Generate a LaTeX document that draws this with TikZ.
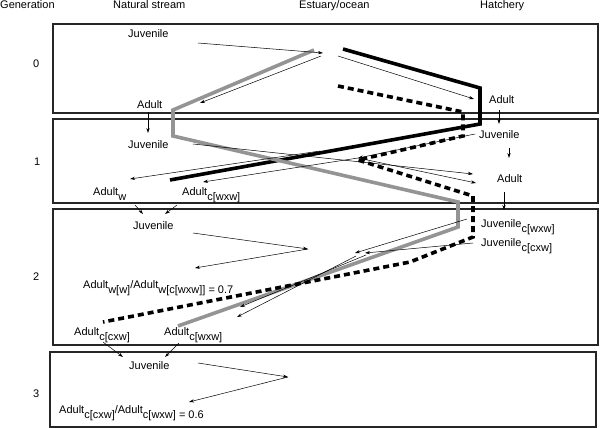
\documentclass[tikz,border=0pt]{standalone}
\usepackage{fontspec}
\setmainfont{Liberation Sans}
\usetikzlibrary{arrows.meta}
\newcommand{\lowtxt}[1]{\raisebox{-5pt}{#1}}
\tikzset{
txt/.style={anchor=base west, inner sep=0pt, font=\fontsize{11}{13}\selectfont},
genbox/.style={draw=black!85, line width=1.1pt},
flow/.style={line width=0.5pt, -{Stealth[length=5pt,width=3.2pt]}},
wildline/.style={draw=black!42, line width=3.6pt},
hatchline/.style={draw=black, line width=3.6pt},
crossline/.style={draw=black, line width=3.6pt, dash pattern=on 6pt off 4pt}
}
\begin{document}
\begin{tikzpicture}[x=1pt,y=-1pt]
\useasboundingbox (0,0) rectangle (600,428);
%Boxes
\draw[genbox] (53,24) rectangle (598,113);
\draw[genbox] (53,119) rectangle (598,203);
\draw[genbox] (53,209) rectangle (598,345);
\draw[genbox] (50,352) rectangle (596,427);
%Headers
\node[txt] (hdrgen) at (0,8.5) {Generation};
\node[txt] (hdrnat) at (113,8.5) {Natural stream};
\node[txt] (hdrest) at (299,8.5) {Estuary/ocean};
\node[txt] (hdrhat) at (480,8.5) {Hatchery};
\node[txt] (gen0) at (33,68) {0};
\node[txt] (gen1) at (34,165) {1};
\node[txt] (gen2) at (33,280) {2};
\node[txt] (gen3) at (33,397) {3};
%Generation 0
\node[txt] (juvN0) at (128,38) {Juvenile};
\node[txt] (adultN0) at (137,109) {Adult};
\node[txt] (adultH0) at (489,103) {Adult};
%Generation 1
\node[txt] (juvN1) at (128,148) {Juvenile};
\node[txt] (adultW1) at (93,195) {Adult\lowtxt{w}};
\node[txt] (adultC1) at (182,195) {Adult\lowtxt{c[wxw]}};
\node[txt] (juvH1) at (479,138) {Juvenile};
\node[txt] (adultH1) at (497,182) {Adult};
%Generation 2
\node[txt] (juvN2) at (133,229) {Juvenile};
\node[txt] (ratio2) at (83,288) {Adult\lowtxt{w[w]}/Adult\lowtxt{w[c[wxw]] = 0.7}};
\node[txt] (adultCC2) at (74,335) {Adult\lowtxt{c[cxw]}};
\node[txt] (adultCW2) at (164,335) {Adult\lowtxt{c[wxw]}};
\node[txt] (juvHW2) at (481,227) {Juvenile\lowtxt{c[wxw]}};
\node[txt] (juvHC2) at (481,246) {Juvenile\lowtxt{c[cxw]}};
%Generation 3
\node[txt] (juvN3) at (129,369) {Juvenile};
\node[txt] (ratio3) at (59,413) {Adult\lowtxt{c[cxw]}/Adult\lowtxt{c[wxw] = 0.6}};
%Lineages
\draw[hatchline] (343,49) -- (480,88) -- (480,124) -- (170,180);
\draw[wildline] (314,50) -- (173,110) -- (173,136) -- (458,202) -- (458,227) -- (178,326);
\draw[crossline] (338,86) -- (463,112) -- (463,136) -- (358,160) -- (473,196) -- (473,237) -- (410,262) -- (103,322);
%Ocean points
\coordinate (sea0) at (323,53);
\coordinate (sea1w) at (320,151);
\coordinate (sea1h) at (358,158);
\coordinate (sea2) at (308,249);
\coordinate (sea2a) at (356,256);
\coordinate (sea2b) at (366,255);
\coordinate (sea3) at (288,377);
%Migrations gen 0
\draw[flow] (198,43) -- (sea0);
\draw[flow] (321,56) -- (200,103);
\draw[flow] (338,56) -- (474,99);
\draw[flow] (adultN0.south -| 148,0) ++(0,3) -- (148,133);
\draw[flow] (499,110) -- (499,124);
%Migrations gen 1
\draw[flow] (193,144) -- (473,174);
\draw[flow] (sea1w) -- (130,179);
\draw[flow] (475,134) -- (sea1h);
\draw[flow] (sea1h) -- (476,183);
\draw[flow] (sea1h) -- (203,182);
\draw[flow] (509,148) -- (509,158);
\draw[flow] (504,192) -- (504,210);
\draw[flow] (135,205) -- (143,214);
\draw[flow] (177,205) -- (165,214);
%Migrations gen 2
\draw[flow] (193,233) -- (sea2);
\draw[flow] (sea2) -- (195,268);
\draw[flow] (467,219) -- (355,253);
\draw[flow] (473,243) -- (365,253);
\draw[flow] (sea2a) -- (237,317);
\draw[flow] (sea2b) -- (240,307);
\draw[flow] (103,342) -- (123,357);
\draw[flow] (179,343) -- (165,357);
%Migrations gen 3
\draw[flow] (198,363) -- (sea3);
\draw[flow] (sea3) -- (189,402);
\end{tikzpicture}
\end{document}
